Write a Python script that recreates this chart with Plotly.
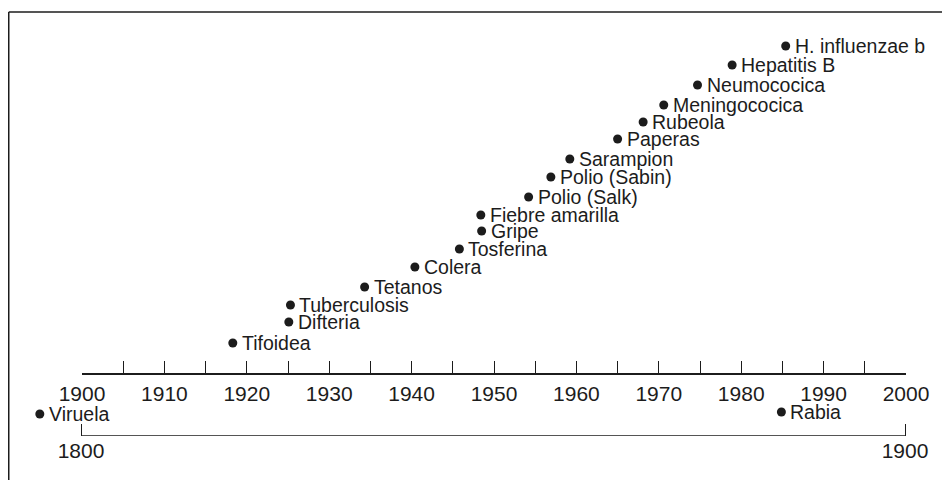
import plotly.graph_objects as go

# ---------------- data ----------------
vaccines = ["Tifoidea", "Difteria", "Tuberculosis", "Tetanos", "Colera",
            "Tosferina", "Gripe", "Fiebre amarilla", "Polio (Salk)",
            "Polio (Sabin)", "Sarampion", "Paperas", "Rubeola",
            "Meningococica", "Neumococica", "Hepatitis B", "H. influenzae b"]
vaccine_years = [1918.3, 1925.1, 1925.3, 1934.3, 1940.4, 1945.8, 1948.5,
                 1948.4, 1954.2, 1956.9, 1959.2, 1965.0, 1968.1, 1970.6,
                 1974.7, 1978.9, 1985.4]
vaccine_levels = [30, 51, 68, 86, 106, 124, 142, 158, 176, 196, 214, 234,
                  251, 268, 288, 308, 327]

early_vaccines = ["Viruela", "Rabia"]
early_years = [1795, 1885]
early_levels = [22, 24]

top_tick_labels = ["1900", "1910", "1920", "1930", "1940", "1950",
                   "1960", "1970", "1980", "1990", "2000"]
top_tick_vals = [int(t) for t in top_tick_labels]
bottom_tick_labels = ["1800", "1900"]
bottom_tick_vals = [int(t) for t in bottom_tick_labels]

# ---------------- layout constants ----------------
PAGE_OFF = 8                      # browser body margin
W, H = 950 - PAGE_OFF, 480 - PAGE_OFF
INK = "#1c1c1c"
FONT = "Liberation Sans, Arial, sans-serif"
top_x0, top_x1, top_line_y = 82 - PAGE_OFF, 906 - PAGE_OFF, 373 - PAGE_OFF
bot_x0, bot_x1, bot_line_y = 81 - PAGE_OFF, 905 - PAGE_OFF, 436 - PAGE_OFF
bot_top_y = 384 - PAGE_OFF
frame_x, frame_y = 0.75, 12 - PAGE_OFF
px_per_year_bot = (bot_x1 - bot_x0) / (bottom_tick_vals[-1] - bottom_tick_vals[0])
bot_range = [bottom_tick_vals[0] - bot_x0 / px_per_year_bot,
             bottom_tick_vals[0] + (W - bot_x0) / px_per_year_bot]

fig = go.Figure()

fig.add_trace(go.Scatter(
    x=vaccine_years, y=vaccine_levels, mode="markers",
    marker=dict(size=9, color=INK), xaxis="x", yaxis="y",
    hovertext=vaccines, showlegend=False))

fig.add_trace(go.Scatter(
    x=early_years, y=early_levels, mode="markers",
    marker=dict(size=9, color=INK), xaxis="x2", yaxis="y2",
    hovertext=early_vaccines, showlegend=False))

label_font = dict(family=FONT, size=19.5, color=INK)
annotations = []
for name, yr, lv in zip(vaccines, vaccine_years, vaccine_levels):
    annotations.append(dict(x=yr, y=lv, xref="x", yref="y", text=name,
                            showarrow=False, xanchor="left", yanchor="middle",
                            xshift=7, font=label_font))
for name, yr, lv in zip(early_vaccines, early_years, early_levels):
    annotations.append(dict(x=yr, y=lv, xref="x2", yref="y2", text=name,
                            showarrow=False, xanchor="left", yanchor="middle",
                            xshift=7, font=label_font))

shapes = [
    # frame (top and left edges of the scanned box)
    dict(type="line", xref="paper", yref="paper", x0=frame_x / W, x1=1,
         y0=1 - frame_y / H, y1=1 - frame_y / H, line=dict(color=INK, width=1.5)),
    dict(type="line", xref="paper", yref="paper", x0=frame_x / W, x1=frame_x / W,
         y0=0, y1=1 - frame_y / H, line=dict(color=INK, width=1.5)),
    # bottom timeline baseline 1800-1900
    dict(type="line", xref="x2", yref="y2", x0=bottom_tick_vals[0],
         x1=bottom_tick_vals[-1], y0=0, y1=0, line=dict(color=INK, width=1.5)),
]

fig.update_layout(
    template="none",
    width=W, height=H, margin=dict(l=0, r=0, t=0, b=0, pad=0, autoexpand=False),
    paper_bgcolor="white", plot_bgcolor="rgba(0,0,0,0)",
    showlegend=False,
    xaxis=dict(domain=[top_x0 / W, top_x1 / W], range=[1900, 2000],
               anchor="y", showgrid=False, zeroline=False, automargin=False,
               showline=True, linecolor=INK, linewidth=1.5,
               tickmode="array", tickvals=top_tick_vals, ticktext=top_tick_labels,
               ticks="inside", ticklen=12, tickwidth=1.2, tickcolor=INK,
               minor=dict(dtick=5, tick0=1900, ticks="inside", ticklen=12,
                          tickwidth=1.2, tickcolor=INK, showgrid=False),
               tickfont=dict(family=FONT, size=21, color=INK),
               ticklabelstandoff=1),
    yaxis=dict(domain=[1 - top_line_y / H, 1], range=[0, top_line_y],
               anchor="x", visible=False, showgrid=False, zeroline=False,
               automargin=False),
    xaxis2=dict(domain=[0, 1], range=bot_range, anchor="y2",
                showgrid=False, zeroline=False, showline=False, automargin=False,
                tickmode="array", tickvals=bottom_tick_vals,
                ticktext=bottom_tick_labels,
                ticks="inside", ticklen=12, tickwidth=1.2, tickcolor=INK,
                tickfont=dict(family=FONT, size=21, color=INK),
                ticklabelstandoff=0),
    yaxis2=dict(domain=[1 - bot_line_y / H, 1 - bot_top_y / H],
                range=[0, bot_line_y - bot_top_y],
                anchor="x2", visible=False, showgrid=False, zeroline=False,
                automargin=False),
    annotations=annotations,
    shapes=shapes,
)

fig.write_html("out.html")
